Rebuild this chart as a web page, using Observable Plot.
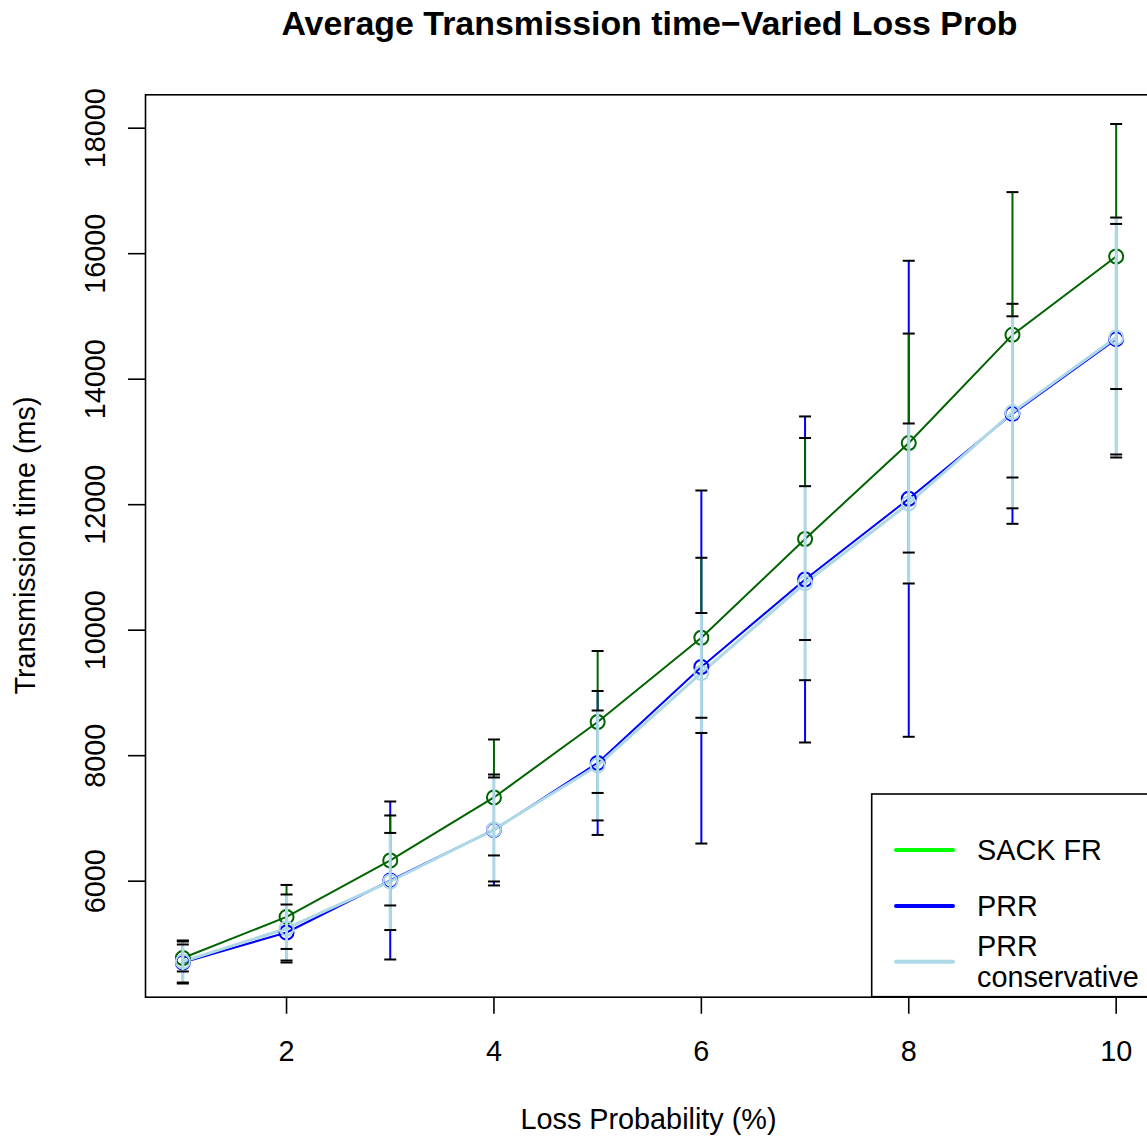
<!DOCTYPE html>
<html>
<head>
<meta charset="utf-8">
<script src="https://cdn.jsdelivr.net/npm/d3@7"></script>
<script src="https://cdn.jsdelivr.net/npm/@observablehq/plot@0.6"></script>
<style>
  html, body { margin: 0; padding: 0; background: #fff; overflow: hidden; }
  #wrap { position: relative; width: 1147px; height: 1138px; font-family: "Liberation Sans", Arial, Helvetica, sans-serif; }
  #wrap > svg { position: absolute; left: 0; top: 0; }
  #overlay { pointer-events: none; }
</style>
</head>
<body>
<div id="wrap"></div>
<script>
// ---- data ----
const xValues = [1, 2, 3, 4, 5, 6, 7, 8, 9, 10];
const seriesNames = ["SACK FR", "PRR", "PRR conservative"];
const sackMean = [4776, 5430, 6330, 7334, 8537, 9879, 11453, 12982, 14707, 15955];
const sackSd   = [215, 510, 717, 924, 1131, 1275, 1610, 1745, 2274, 2112];
const prrMean  = [4704, 5182, 6011, 6816, 7884, 9413, 10808, 12094, 13448, 14637];
const prrSd    = [335, 446, 1259, 884, 1147, 2813, 2598, 3793, 1753, 1837];
const consMean = [4720, 5246, 5995, 6824, 7844, 9318, 10749, 12019, 13472, 14664];
const consSd   = [335, 542, 774, 829, 876, 956, 1546, 1275, 1530, 1912];
const xTicks = [2, 4, 6, 8, 10];
const yTicks = [6000, 8000, 10000, 12000, 14000, 16000, 18000];
const lineColors = ["#006400", "#0000FF", "#ADD8E6"];
const legendColors = ["#00FF00", "#0000FF", "#ADD8E6"];
const legendLabels = [["SACK FR"], ["PRR"], ["PRR", "conservative"]];
const titleText = "Average Transmission time\u2212Varied Loss Prob";
const xLabel = "Loss Probability (%)";
const yLabel = "Transmission time (ms)";

// ---- tables built from the arrays ----
const means = [sackMean, prrMean, consMean];
const sds = [sackSd, prrSd, consSd];
const series = seriesNames.map((name, k) => xValues.map((x, i) => ({
  series: name, x, mean: means[k][i],
  lo: means[k][i] - sds[k][i], hi: means[k][i] + sds[k][i]
})));

const W = 1147, H = 1138;
const FONT = "Liberation Sans, Arial, Helvetica, sans-serif";
const FS = 28.8;

const capSymbol = { draw(ctx, size) { const r = Math.sqrt(size / Math.PI); ctx.moveTo(-r, 0); ctx.lineTo(r, 0); } };

const lineWidths = [2, 2, 3];
const barOrder = [1, 0, 2];

const marks = [
  Plot.frame({ stroke: "black", strokeWidth: 1.6 }),
  Plot.axisX({ ticks: xTicks, tickSize: 17, tickPadding: 26, label: null, fontSize: FS, strokeWidth: 1.6, fill: "black" }),
  Plot.axisY({ ticks: yTicks, tickFormat: d3.format("d"), tickSize: 17, tickPadding: 24, tickRotate: -90, label: null, fontSize: FS, strokeWidth: 1.6, fill: "black" })
];
series.forEach((rows, k) => {
  marks.push(Plot.line(rows, { x: "x", y: "mean", stroke: lineColors[k], strokeWidth: lineWidths[k] }));
});
series.forEach((rows, k) => {
  marks.push(Plot.dot(rows, { x: "x", y: "mean", r: 7, stroke: lineColors[k], strokeWidth: 2, fill: "none" }));
});
barOrder.forEach(k => {
  marks.push(Plot.ruleX(series[k], { x: "x", y1: "lo", y2: "hi", stroke: lineColors[k], strokeWidth: lineWidths[k] }));
});
barOrder.forEach(k => {
  marks.push(Plot.dot(series[k], { x: "x", y: "lo", r: 6, symbol: capSymbol, stroke: "black", strokeWidth: 2, fill: "none" }));
  marks.push(Plot.dot(series[k], { x: "x", y: "hi", r: 6, symbol: capSymbol, stroke: "black", strokeWidth: 2, fill: "none" }));
});

const chart = Plot.plot({
  width: W, height: H,
  marginTop: 94.3, marginBottom: H - 996.7, marginLeft: 145, marginRight: -6,
  style: { fontFamily: FONT, fontSize: FS + "px", background: "white", color: "black", overflow: "visible" },
  x: { domain: [0.64, 10.36], range: [145, 1153] },
  y: { domain: [4151, 18532] },
  marks
});
document.getElementById("wrap").appendChild(chart);

// ---- title, axis titles, legend ----
const ov = d3.select("#wrap").append("svg").attr("id", "overlay")
  .attr("width", W).attr("height", H).attr("viewBox", `0 0 ${W} ${H}`)
  .style("overflow", "visible").style("font-family", FONT);

ov.append("text").attr("x", 649.5).attr("y", 35).attr("text-anchor", "middle")
  .attr("font-weight", "bold").attr("font-size", 33.9).attr("fill", "black").text(titleText);
ov.append("text").attr("x", 648.5).attr("y", 1129).attr("text-anchor", "middle")
  .attr("font-size", FS).attr("fill", "black").text(xLabel);
ov.append("text").attr("transform", "translate(35,545.5) rotate(-90)").attr("text-anchor", "middle")
  .attr("font-size", FS).attr("fill", "black").text(yLabel);

const lg = ov.append("g");
lg.append("rect").attr("x", 871.7).attr("y", 794).attr("width", 320).attr("height", 996.7 - 794)
  .attr("fill", "white").attr("stroke", "black").attr("stroke-width", 1.6);
const rowY = [850, 906, 961.7];
legendLabels.forEach((lines, k) => {
  lg.append("line").attr("x1", 896).attr("x2", 953).attr("y1", rowY[k]).attr("y2", rowY[k])
    .attr("stroke", legendColors[k]).attr("stroke-width", 4).attr("stroke-linecap", "round");
  const n = lines.length;
  lines.forEach((s, j) => {
    const base = rowY[k] + 10.2 + (j - (n - 1) / 2) * 31 ;
    lg.append("text").attr("x", 977).attr("y", base).attr("font-size", FS).attr("fill", "black").text(s);
  });
});
</script>
</body>
</html>
